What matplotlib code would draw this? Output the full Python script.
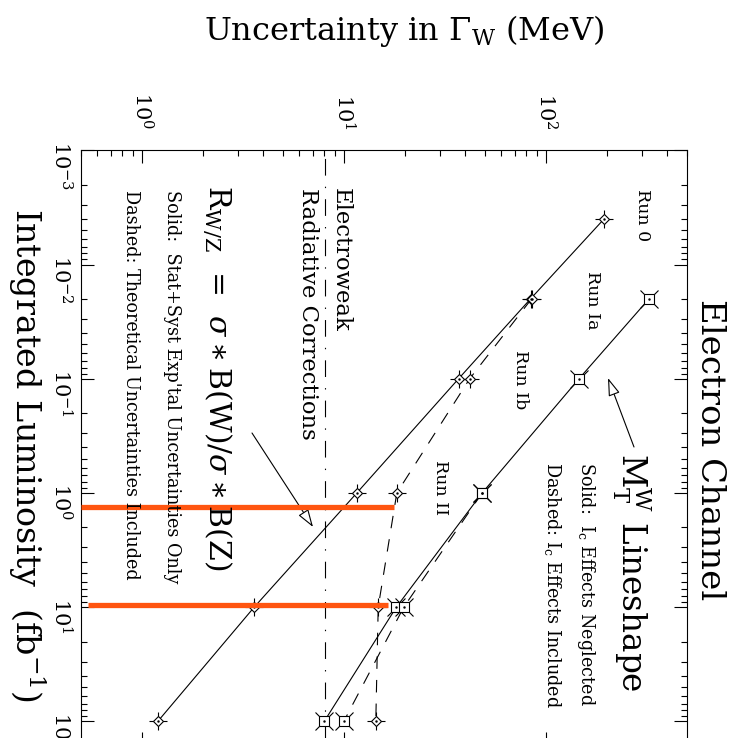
import numpy as np
import matplotlib
matplotlib.use('Agg')
import matplotlib.pyplot as plt

plt.rcParams['font.family'] = 'DejaVu Serif'
plt.rcParams['mathtext.fontset'] = 'dejavuserif'
plt.rcParams['lines.scale_dashes'] = False

# integrated luminosity (fb^-1) for Run 0, Ia, Ib, II, 10 fb, 100 fb
lum_runs = [0.004, 0.02, 0.1, 1.0, 10.0, 100.0]
# R_W/Z method, uncertainty on Gamma_W (MeV)
rwz_solid = [194, 84, 37, 11.6, 3.6, 1.2]
rwz_dash_lum = [0.02, 0.1, 1.0, 10.0, 100.0]
rwz_dashed = [85, 42, 18.3, 14.8, 14.4]
# M_T^W lineshape
mt_lum = [0.02, 0.1, 1.0, 10.0, 100.0]
mt_solid = [324, 146, 48.4, 18.2, 8.0]
mt_dash_lum = [1.0, 10.0, 100.0]
mt_dashed = [48.4, 19.8, 10.0]
# electroweak radiative corrections level
ew_corr = 8.1
# orange highlight bars
bar_lum = [1.33, 9.5]
bar_lo = [0.5, 0.54]
bar_hi = [17.7, 16.6]

W, H = 742, 738
fig = plt.figure(figsize=(W / 100, H / 100), dpi=100)


def fx(px):
    return px / W


def fy(py):
    return 1 - py / H


ax = fig.add_axes([fx(81), fy(745), (687 - 81) / W, (745 - 150.3) / H])
ax.set_xscale('log')
ax.set_yscale('log')
ax.set_xlim(0.5, 500)
ax.set_ylim(161, 0.001)

lw = 0.8
dash = (0, (9, 8))


def diamonds(x, y):
    ax.plot(x, y, ls='none', marker='+', ms=13, mew=lw, color='k', zorder=3)
    ax.plot(x, y, ls='none', marker='D', ms=4.6, mew=lw, mfc='white', mec='k', zorder=4)
    ax.plot(x, y, ls='none', marker='.', ms=1.5, color='k', zorder=5)


def squares(x, y):
    ax.plot(x, y, ls='none', marker='x', ms=13, mew=lw, color='k', zorder=3)
    ax.plot(x, y, ls='none', marker='s', ms=7, mew=lw, mfc='white', mec='k', zorder=4)
    ax.plot(x, y, ls='none', marker='.', ms=1.5, color='k', zorder=5)


ax.plot(rwz_solid, lum_runs, color='k', lw=lw, zorder=2)
ax.plot(rwz_dashed, rwz_dash_lum, color='k', lw=lw, ls=dash, zorder=2)
ax.plot(mt_solid, mt_lum, color='k', lw=lw, zorder=2)
ax.plot(mt_dashed, mt_dash_lum, color='k', lw=lw, ls=dash, zorder=2)
diamonds(rwz_solid, lum_runs)
diamonds(rwz_dashed, rwz_dash_lum)
squares(mt_solid, mt_lum)
squares(mt_dashed, mt_dash_lum)

ax.axvline(ew_corr, color='k', lw=lw, ls=(0, (12, 8, 1, 8)), zorder=1)

for yl, lo, hi in zip(bar_lum, bar_lo, bar_hi):
    ax.plot([lo, hi], [yl, yl], color='#ff5510', lw=3.8, solid_capstyle='butt', zorder=6)

ax.xaxis.tick_top()
ax.tick_params(which='both', direction='in', top=True, bottom=True, left=True, right=True,
               labeltop=True, labelbottom=False, labelrotation=-90, labelsize=15, width=0.8)
ax.tick_params(which='major', length=9.5)
ax.tick_params(which='minor', length=4.5)
ax.tick_params(axis='x', pad=15)
ax.tick_params(axis='y', pad=6)
for s in ax.spines.values():
    s.set_linewidth(0.8)

rot = dict(rotation=-90, ha='center')
fig.text(fx(404), fy(31), r'Uncertainty in $\Gamma_{\rm W}$ (MeV)', fontsize=23, ha='center', va='center')
fig.text(fx(27), fy(455), r'Integrated Luminosity  (fb$^{-1}$)', fontsize=24, va='center', **rot)
fig.text(fx(710), fy(450), 'Electron Channel', fontsize=24.5, va='center', **rot)

fig.text(fx(642), fy(215), 'Run 0', fontsize=12.5, va='center', **rot)
fig.text(fx(592), fy(300), 'Run Ia', fontsize=12.5, va='center', **rot)
fig.text(fx(520), fy(380), 'Run Ib', fontsize=12.5, va='center', **rot)
fig.text(fx(440), fy(488), 'Run II', fontsize=12.5, va='center', **rot)

fig.text(fx(632), fy(453), r'M$_{\rm T}^{\rm W}$ Lineshape', fontsize=23.5, va='top', **rot)
fig.text(fx(586), fy(462), r'Solid:  I$_{\rm c}$ Effects Neglected', fontsize=12.7, va='top', **rot)
fig.text(fx(552), fy(462), r'Dashed: I$_{\rm c}$ Effects Included', fontsize=12.7, va='top', **rot)

fig.text(fx(217), fy(185), r'R$_{\rm W/Z}$  =  $\sigma\ast$B(W)/$\sigma\ast$B(Z)', fontsize=21.5, va='top', **rot)
fig.text(fx(172), fy(190), "Solid:  Stat+Syst Exp'tal Uncertainties Only", fontsize=12.7, va='top', **rot)
fig.text(fx(131), fy(190), 'Dashed: Theoretical Uncertainties Included', fontsize=12.7, va='top', **rot)

fig.text(fx(341), fy(188), 'Electroweak', fontsize=16.4, va='top', **rot)
fig.text(fx(308), fy(188), 'Radiative Corrections', fontsize=16.4, va='top', **rot)

arrow = dict(arrowstyle='-|>,head_length=1.1,head_width=0.36', color='k', fc='white',
             lw=0.8, shrinkA=0, shrinkB=0, mutation_scale=10)
ax.annotate('', xy=(fx(313), fy(527)), xycoords='figure fraction',
            xytext=(fx(252), fy(433)), textcoords='figure fraction', arrowprops=arrow)
ax.annotate('', xy=(fx(608), fy(378)), xycoords='figure fraction',
            xytext=(fx(634), fy(447)), textcoords='figure fraction', arrowprops=arrow)

fig.savefig('out.png', dpi=100)
